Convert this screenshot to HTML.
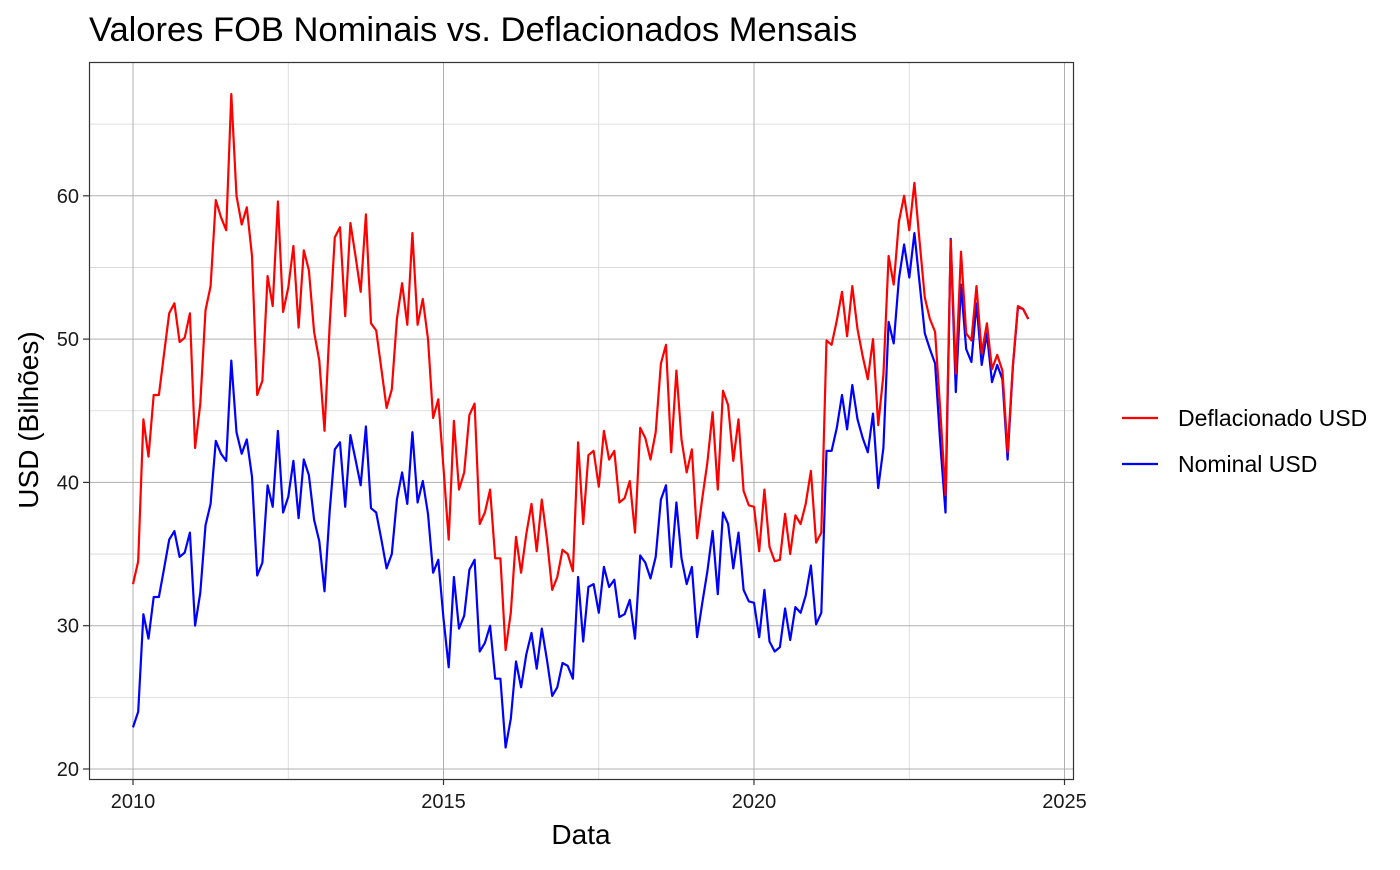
<!DOCTYPE html>
<html><head><meta charset="utf-8"><style>
body{margin:0;background:#fff;}
svg text{font-family:"Liberation Sans",Arial,sans-serif;}
</style></head><body>
<svg id="chart" width="1400" height="865" xmlns="http://www.w3.org/2000/svg">
<text x="89" y="41" font-size="34.5" fill="#000">Valores FOB Nominais vs. Deflacionados Mensais</text>
<g id="grid"></g>
<g id="series"></g>
<rect x="89.5" y="62.5" width="984" height="717" fill="none" stroke="#333" stroke-width="1.2"/>
<g id="axes"></g>
<text x="581" y="844" font-size="28" text-anchor="middle">Data</text>
<text transform="translate(38,420) rotate(-90)" font-size="28" text-anchor="middle">USD (Bilhões)</text>
<g>
<line x1="1122" y1="418" x2="1158" y2="418" stroke="#ff0000" stroke-width="2.2"/>
<text x="1178" y="426" font-size="23">Deflacionado USD</text>
<line x1="1122" y1="464" x2="1158" y2="464" stroke="#0000ff" stroke-width="2.2"/>
<text x="1178" y="472" font-size="23">Nominal USD</text>
</g>
</svg>
<script>
const startYear = 2010;
const xTicks = [2010, 2015, 2020, 2025];
const yTicks = [20, 30, 40, 50, 60];
const deflacionado = [
32.9,34.5,44.4,41.8,46.1,46.1,49,51.8,52.5,49.8,50.1,51.8,
42.4,45.5,52,53.7,59.7,58.5,57.6,67.1,60,58,59.2,55.8,
46.1,47.1,54.4,52.3,59.6,51.9,53.6,56.5,50.8,56.2,54.8,50.5,
48.5,43.6,51,57.1,57.8,51.6,58.1,55.8,53.3,58.7,51.1,50.6,
47.9,45.2,46.5,51.4,53.9,51,57.4,51,52.8,50,44.5,45.8,
41,36,44.3,39.5,40.7,44.7,45.5,37.1,37.9,39.5,34.7,34.7,
28.3,30.9,36.2,33.7,36.4,38.5,35.2,38.8,36,32.5,33.4,35.3,
35,33.8,42.8,37.1,41.9,42.2,39.7,43.6,41.6,42.2,38.6,38.9,
40.1,36.5,43.8,43.1,41.6,43.5,48.3,49.6,42.1,47.8,43,40.7,
42.3,36.1,38.9,41.4,44.9,39.5,46.4,45.4,41.5,44.4,39.4,38.4,
38.3,35.2,39.5,35.5,34.5,34.6,37.8,35,37.7,37.1,38.5,40.8,
35.8,36.5,49.9,49.6,51.3,53.3,50.2,53.7,50.7,48.8,47.2,50,
44,47.5,55.8,53.8,58.2,60,57.6,60.9,56.8,52.9,51.4,50.5,
45,39.1,56.9,47.6,56.1,50.4,49.9,53.7,49,51.1,47.9,48.9,
47.8,42.1,48.1,52.3,52.1,51.4];
const nominal = [
22.9,24,30.8,29.1,32,32,34,36,36.6,34.8,35.1,36.5,
30,32.3,37,38.5,42.9,42,41.5,48.5,43.5,42,43,40.4,
33.5,34.4,39.8,38.3,43.6,37.9,39,41.5,37.5,41.6,40.5,37.4,
35.9,32.4,38,42.3,42.8,38.3,43.3,41.6,39.8,43.9,38.2,37.9,
36,34,35,38.8,40.7,38.5,43.5,38.6,40.1,37.8,33.7,34.6,
30.5,27.1,33.4,29.8,30.7,33.9,34.6,28.2,28.8,30,26.3,26.3,
21.5,23.5,27.5,25.7,28,29.5,27,29.8,27.6,25.1,25.7,27.4,
27.2,26.3,33.4,28.9,32.7,32.9,30.9,34.1,32.7,33.2,30.6,30.8,
31.8,29.1,34.9,34.4,33.3,34.8,38.8,39.8,34.1,38.6,34.7,32.9,
34.1,29.2,31.6,33.8,36.6,32.2,37.9,37.1,34,36.5,32.5,31.7,
31.6,29.2,32.5,28.9,28.2,28.5,31.2,29,31.3,30.9,32.1,34.2,
30.1,30.9,42.2,42.2,43.8,46.1,43.7,46.8,44.4,43.1,42.1,44.8,
39.6,42.4,51.2,49.7,54.2,56.6,54.3,57.4,53.9,50.4,49.3,48.3,
42.7,37.9,57,46.3,53.8,49.3,48.4,52.5,48.2,50.4,47,48.2,
47.2,41.6,48,52.2,52.1,51.4];

const NS = "http://www.w3.org/2000/svg";
const x = yr => 133 + (yr - 2010) * 62.1;
const y = v => 769 - (v - 20) * 14.33;
const grid = document.getElementById('grid');
const axes = document.getElementById('axes');
function mk(tag, attrs, parent) {
  const e = document.createElementNS(NS, tag);
  for (const k in attrs) e.setAttribute(k, attrs[k]);
  parent.appendChild(e);
  return e;
}
for (let i = 0; i < xTicks.length - 1; i++) {
  const l = mk('line', {x1: x(xTicks[i] + 2.5), x2: x(xTicks[i] + 2.5), y1: 62, y2: 779, stroke: '#d6d6d6', 'stroke-width': 0.8}, grid);
  
  
}
for (let i = 0; i < yTicks.length; i++) {
  const l = mk('line', {x1: 89, x2: 1073, y1: y(yTicks[i] + 5), y2: y(yTicks[i] + 5), stroke: '#d6d6d6', 'stroke-width': 0.8}, grid);
  
  
}
xTicks.forEach(t => {
  const l = mk('line', {x1: x(t), x2: x(t), y1: 62, y2: 779, stroke: '#b0b0b0', 'stroke-width': 1}, grid);
  
  
  const tk = mk('line', {x1: x(t), x2: x(t), y1: 779, y2: 785, stroke: '#333', 'stroke-width': 1.2}, axes);
  
  
  const tx = mk('text', {x: x(t), y: 808, 'font-size': 20, 'text-anchor': 'middle', fill: '#1a1a1a'}, axes);
  tx.textContent = t;
  
  
});
yTicks.forEach(t => {
  const l = mk('line', {x1: 89, x2: 1073, y1: y(t), y2: y(t), stroke: '#b0b0b0', 'stroke-width': 1}, grid);
  
  
  const tk = mk('line', {x1: 83, x2: 89, y1: y(t), y2: y(t), stroke: '#333', 'stroke-width': 1.2}, axes);
  
  
  const tx = mk('text', {x: 79, y: y(t) + 7, 'font-size': 20, 'text-anchor': 'end', fill: '#1a1a1a'}, axes);
  tx.textContent = t;
  
  
});
const series = document.getElementById('series');
function line(data, color, name) {
  const pts = data.map((v, i) => x(startYear + i / 12).toFixed(1) + ',' + y(v).toFixed(1)).join(' ');
  const p = mk('polyline', {points: pts, fill: 'none', stroke: color, 'stroke-width': 2.2, 'stroke-linejoin': 'round'}, series);
  
  
}
line(nominal, '#0000ff', 'nominal-usd-line');
line(deflacionado, '#ff0000', 'deflacionado-usd-line');
</script>
</body></html>
